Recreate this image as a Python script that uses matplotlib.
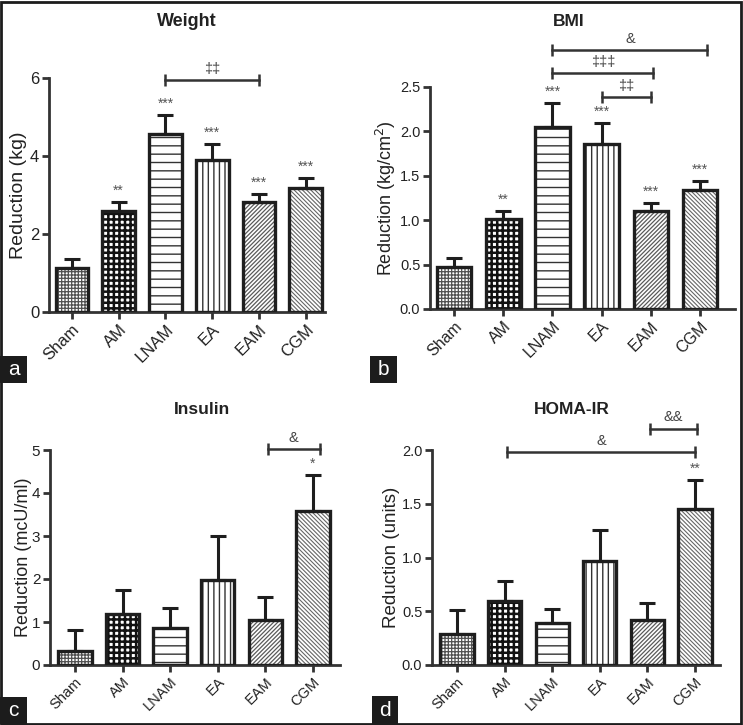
import matplotlib
matplotlib.use("Agg")
import matplotlib.pyplot as plt
from matplotlib.patches import Rectangle

plt.rcParams['font.family'] = ['Liberation Sans', 'DejaVu Sans']
plt.rcParams['hatch.linewidth'] = 1.0

groups = ["Sham", "AM", "LNAM", "EA", "EAM", "CGM"]

weight_mean = [1.12, 2.60, 4.56, 3.90, 2.82, 3.18]
weight_err = [0.25, 0.22, 0.48, 0.41, 0.20, 0.26]
weight_sig = ["", "**", "***", "***", "***", "***"]

bmi_mean = [0.47, 1.01, 2.05, 1.86, 1.10, 1.34]
bmi_err = [0.10, 0.09, 0.27, 0.23, 0.09, 0.10]
bmi_sig = ["", "**", "***", "***", "***", "***"]

insulin_mean = [0.33, 1.18, 0.86, 1.97, 1.05, 3.58]
insulin_err = [0.48, 0.56, 0.47, 1.03, 0.53, 0.84]
insulin_sig = ["", "", "", "", "", "*"]

homa_mean = [0.29, 0.60, 0.39, 0.97, 0.42, 1.45]
homa_err = [0.22, 0.18, 0.13, 0.29, 0.16, 0.27]
homa_sig = ["", "", "", "", "", "**"]

# brackets: (x start, x end, y, label)
weight_brackets = [(2, 4, 5.95, "‡‡")]
bmi_brackets = [(2, 5.15, 2.92, "&"), (2, 4.05, 2.66, "‡‡‡"), (3, 4, 2.39, "‡‡")]
insulin_brackets = [(4.05, 5.15, 5.02, "&")]
homa_brackets = [(1.05, 5.0, 1.98, "&"), (4.05, 5.05, 2.2, "&&")]

hatches = ["+++++", "+++", "--", "|||", "////////", "\\\\\\\\\\\\\\\\"]
hatch_colors = ["#505050", "#111111", "#333333", "#333333", "#5a5a5a", "#666666"]
hatch_lw = [0.9, 1.8, 1.0, 1.0, 0.9, 0.8]

W, H = 743, 725
fig = plt.figure(figsize=(W / 100, H / 100), dpi=100)


def px_axes(x0, x1, y0, y1):
    return fig.add_axes([x0 / W, 1 - y1 / H, (x1 - x0) / W, (y1 - y0) / H])


def panel(ax, means, errs, sigs, brackets, title, ylabel, ymax, yticks, ticklabels,
          xlim, title_pos, ylabel_x, fs_tick, fs_xtick, fs_title, fs_ylabel):
    x = list(range(len(groups)))
    for i in x:
        with plt.rc_context({'hatch.linewidth': hatch_lw[i]}):
            bars = ax.bar(i, means[i], width=0.7, color="white", edgecolor=hatch_colors[i],
                          hatch=hatches[i], linewidth=0, zorder=2)
        for p in bars:
            if hasattr(p, "set_hatch_linewidth"):
                p.set_hatch_linewidth(hatch_lw[i])
        ax.bar(i, means[i], width=0.7, fill=False, edgecolor="#1e1e1e",
               linewidth=2.4, zorder=3)
    ax.errorbar(x, means, yerr=[[0] * len(x), errs], fmt="none", ecolor="#1e1e1e",
                elinewidth=2.2, capsize=6, capthick=2.2, zorder=4)
    for i in x:
        if sigs[i]:
            ax.annotate(sigs[i], (i, means[i] + errs[i]), xytext=(0, 3),
                        textcoords="offset points", ha="center", va="bottom",
                        fontsize=10, color="#555555", annotation_clip=False)
    for (x1, x2, yb, lab) in brackets:
        ax.plot([x1, x2], [yb, yb], color="#333333", lw=1.8, marker="|", ms=9,
                mew=1.8, clip_on=False, zorder=5)
        ax.annotate(lab, ((x1 + x2) / 2, yb), xytext=(0, 3), textcoords="offset points",
                    ha="center", va="bottom", fontsize=10.5, color="#444444",
                    annotation_clip=False)
    ax.set_xlim(*xlim)
    ax.set_ylim(0, ymax)
    ax.set_yticks(yticks)
    ax.set_yticklabels(ticklabels, fontsize=fs_tick, color="#222222")
    ax.set_xticks(x)
    ax.set_xticklabels(groups, rotation=45, ha="right", rotation_mode="anchor",
                       fontsize=fs_xtick, color="#222222")
    for s in ["top", "right"]:
        ax.spines[s].set_visible(False)
    for s in ["left", "bottom"]:
        ax.spines[s].set_linewidth(2.0)
        ax.spines[s].set_color("#333333")
    ax.tick_params(axis="both", width=2.0, length=5, color="#333333", pad=2)
    ax.set_ylabel(ylabel, fontsize=fs_ylabel, color="#222222")
    ax.yaxis.set_label_coords(ylabel_x, 0.5)
    ax.yaxis.label.set_va("center")
    ax.text(title_pos[0], title_pos[1], title, transform=ax.transAxes, ha="center",
            va="center", fontsize=fs_title, fontweight="bold", color="#222222")


axa = px_axes(49, 325, 78, 312)
panel(axa, weight_mean, weight_err, weight_sig, weight_brackets, "Weight",
      "Reduction (kg)", 6, [0, 2, 4, 6], ["0", "2", "4", "6"], (-0.49, 5.41),
      (0.5, 1.24), -0.11, 12, 12, 13, 14)

axb = px_axes(430, 735, 87, 309)
panel(axb, bmi_mean, bmi_err, bmi_sig, bmi_brackets, "BMI",
      "Reduction (kg/cm$^2$)", 2.5, [0, 0.5, 1.0, 1.5, 2.0, 2.5],
      ["0.0", "0.5", "1.0", "1.5", "2.0", "2.5"], (-0.49, 5.71),
      (0.456, 1.293), -0.145, 10.5, 11.5, 12.5, 13)

axc = px_axes(50, 340, 450, 665)
panel(axc, insulin_mean, insulin_err, insulin_sig, insulin_brackets, "Insulin",
      "Reduction (mcU/ml)", 5, [0, 1, 2, 3, 4, 5], ["0", "1", "2", "3", "4", "5"],
      (-0.525, 5.57), (0.524, 1.19), -0.09, 11, 10.5, 12.5, 13)

axd = px_axes(432, 720, 450, 665)
panel(axd, homa_mean, homa_err, homa_sig, homa_brackets, "HOMA-IR",
      "Reduction (units)", 2.0, [0, 0.5, 1.0, 1.5, 2.0],
      ["0.0", "0.5", "1.0", "1.5", "2.0"], (-0.525, 5.525),
      (0.486, 1.19), -0.14, 10.5, 10.5, 12.5, 13.5)

for lab, (x0, y0, x1, y1) in zip(["a", "b", "c", "d"],
                                 [(0, 356, 27, 383), (370, 356, 397, 383),
                                  (0, 697, 27, 724), (372, 696, 398, 724)]):
    fig.patches.append(Rectangle((x0 / W, 1 - y1 / H), (x1 - x0) / W, (y1 - y0) / H,
                                 transform=fig.transFigure, facecolor="#1c1c1c",
                                 edgecolor="none", zorder=10))
    fig.text((x0 + x1) / 2 / W, 1 - (y0 + y1) / 2 / H, lab, color="white",
             fontsize=15, ha="center", va="center", zorder=11)

fig.patches.append(Rectangle((1 / W, 1.5 / H), 740 / W, 722 / H, transform=fig.transFigure,
                             fill=False, edgecolor="#1c1c1c", linewidth=2.0, zorder=12))

fig.savefig("out.png", dpi=100)
